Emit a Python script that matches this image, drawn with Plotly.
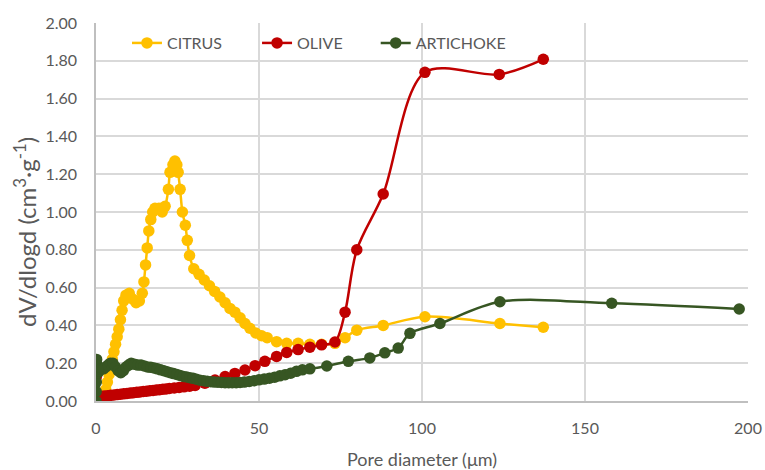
import plotly.graph_objects as go

# Pore size distribution (dV/dlogd) for three biomass samples
citrus_x = [0.0, 1.0, 1.8, 2.5, 3.0, 3.5, 4.0, 4.5, 5.0, 5.5, 6.0, 6.5, 7.0, 7.5, 8.0, 8.5,
            9.2, 10.2, 11.2, 12.3, 13.3, 14.2, 14.7, 15.2, 15.7, 16.2, 16.8, 17.4, 18.1, 19.3,
            20.3, 21.2, 22.2, 22.7, 23.6, 24.2, 24.8, 25.2, 25.8, 26.5, 27.4, 28.0, 28.7, 30.0,
            31.6, 33.2, 34.8, 36.4, 38.0, 39.6, 41.1, 42.6, 44.2, 45.7, 47.2, 49.0, 50.8, 52.5,
            55.4, 58.5, 62.0, 65.6, 69.2, 73.3, 76.4, 80.0, 88.1, 100.9, 123.9, 137.2]
citrus_y = [0.00, 0.00, 0.01, 0.03, 0.06, 0.10, 0.14, 0.18, 0.22, 0.26, 0.30, 0.34, 0.38, 0.43,
            0.48, 0.53, 0.56, 0.57, 0.54, 0.52, 0.53, 0.57, 0.63, 0.72, 0.81, 0.90, 0.96, 1.00,
            1.02, 1.02, 1.00, 1.03, 1.12, 1.21, 1.25, 1.27, 1.25, 1.21, 1.12, 1.00, 0.93, 0.85,
            0.77, 0.70, 0.67, 0.64, 0.61, 0.58, 0.55, 0.52, 0.49, 0.47, 0.44, 0.41, 0.385, 0.36,
            0.345, 0.335, 0.314, 0.305, 0.305, 0.30, 0.30, 0.305, 0.335, 0.375, 0.40, 0.446,
            0.41, 0.39]

olive_x = [0.0, 0.1, 0.3, 1.5, 2.5, 3.5, 4.5, 5.5, 6.5, 7.5, 8.5, 9.5, 10.5, 11.5, 12.5, 13.5,
           14.5, 15.5, 16.5, 17.5, 18.5, 19.5, 20.5, 21.5, 22.5, 24.0, 25.5, 27.0, 28.7, 30.4,
           33.4, 36.5, 39.6, 42.6, 45.7, 48.8, 51.8, 55.4, 58.5, 62.0, 65.6, 69.2, 73.3, 76.4,
           80.0, 88.1, 100.9, 123.7, 137.2]
olive_y = [0.02, 0.13, 0.03, 0.025, 0.027, 0.028, 0.03, 0.032, 0.034, 0.036, 0.038, 0.040,
           0.042, 0.044, 0.046, 0.048, 0.050, 0.052, 0.054, 0.056, 0.058, 0.060, 0.062, 0.064,
           0.066, 0.069, 0.072, 0.075, 0.078, 0.082, 0.094, 0.111, 0.129, 0.146, 0.164, 0.187,
           0.21, 0.236, 0.257, 0.272, 0.285, 0.297, 0.312, 0.47, 0.80, 1.095, 1.739, 1.728,
           1.808]

artichoke_x = [0.0, 0.05, 0.1, 0.15, 0.2, 0.4, 0.6, 1.0, 1.6, 2.3, 3.0, 3.7, 4.4, 5.2, 6.0,
               6.8, 7.6, 8.4, 9.2, 10.0, 10.8, 11.8, 12.8, 13.8, 14.8, 15.8, 16.8, 17.8, 18.8,
               19.8, 20.8, 21.8, 22.8, 23.8, 24.8, 25.8, 26.8, 27.8, 28.8, 29.8, 30.8, 31.9,
               33.0, 34.1, 35.2, 36.3, 37.4, 38.5, 39.6, 40.7, 41.8, 43.0, 44.2, 45.5, 47.0,
               48.5, 50.0, 51.6, 53.2, 54.8, 56.4, 58.0, 59.7, 61.5, 63.3, 65.6, 70.8, 77.4,
               84.0, 88.6, 92.7, 96.3, 105.5, 123.9, 158.2, 197.3]
artichoke_y = [0.00, 0.05, 0.10, 0.16, 0.22, 0.19, 0.15, 0.16, 0.17, 0.17, 0.18, 0.19, 0.20,
               0.20, 0.18, 0.16, 0.15, 0.16, 0.18, 0.19, 0.20, 0.195, 0.19, 0.19, 0.185, 0.18,
               0.178, 0.175, 0.17, 0.165, 0.16, 0.155, 0.15, 0.145, 0.14, 0.135, 0.13, 0.127,
               0.123, 0.12, 0.115, 0.11, 0.107, 0.104, 0.102, 0.10, 0.099, 0.098, 0.097, 0.097,
               0.097, 0.097, 0.098, 0.10, 0.103, 0.107, 0.112, 0.116, 0.121, 0.126, 0.133,
               0.139, 0.147, 0.157, 0.165, 0.17, 0.185, 0.21, 0.228, 0.255, 0.28, 0.358, 0.41,
               0.525, 0.517, 0.487]

x_ticks = [0, 50, 100, 150, 200]
y_ticks = [0.0, 0.2, 0.4, 0.6, 0.8, 1.0, 1.2, 1.4, 1.6, 1.8, 2.0]

# name, x, y, colour, legend id, legend left position (paper coords)
series = [
    ("CITRUS", citrus_x, citrus_y, "#FFC000", "legend", 0.0475),
    ("OLIVE", olive_x, olive_y, "#C00000", "legend2", 0.247),
    ("ARTICHOKE", artichoke_x, artichoke_y, "#375623", "legend3", 0.429),
]

FONT = "Lato, 'Liberation Sans', sans-serif"
GREY = "#595959"
GRID = "#d9d9d9"

fig = go.Figure()
legend_layout = {}
for name, xs, ys, color, leg, lx in series:
    fig.add_trace(go.Scatter(
        x=xs, y=ys, name=name, mode="lines+markers", legend=leg,
        line=dict(color=color, width=2.5, shape="spline", smoothing=0.9),
        marker=dict(color=color, size=11.5, line=dict(width=0)),
    ))
    legend_layout[leg] = dict(
        orientation="h", x=lx, y=0.992, xanchor="left", yanchor="top",
        bgcolor="rgba(255,255,255,0)", font=dict(size=16, color=GREY), itemwidth=30,
    )

fig.update_layout(
    width=765, height=470,
    margin=dict(l=96, r=17, t=23, b=69),
    paper_bgcolor="white", plot_bgcolor="white",
    font=dict(family=FONT, color=GREY, size=16),
    showlegend=True,
    **legend_layout,
)

# vertical axis title, placed slightly below the plot's mid-height
fig.add_annotation(
    text="dV/dlogd (cm<sup>3</sup>·g<sup>-1</sup>)", textangle=-90,
    xref="paper", yref="paper", x=-0.109, y=0.447, xanchor="center", yanchor="middle",
    showarrow=False, font=dict(size=24, color=GREY, family=FONT),
)

fig.update_xaxes(
    range=[0, 200], tickvals=x_ticks, showgrid=True, gridcolor=GRID, gridwidth=1.5,
    showline=True, linecolor="#bfbfbf", linewidth=1.5, zeroline=False, automargin=False,
    ticks="", ticklabelstandoff=12, tickfont=dict(size=16, color=GREY),
    title=dict(text="Pore diameter (μm)", font=dict(size=18, color=GREY), standoff=17),
)
fig.update_yaxes(
    range=[0, 2.0], tickvals=y_ticks, tickformat=".2f", showgrid=True, gridcolor=GRID,
    gridwidth=1.5, showline=True, linecolor="#bfbfbf", linewidth=1.5, zeroline=False,
    automargin=False, ticks="", ticklabelstandoff=14, tickfont=dict(size=16, color=GREY),
)

fig.write_html("out.html")
